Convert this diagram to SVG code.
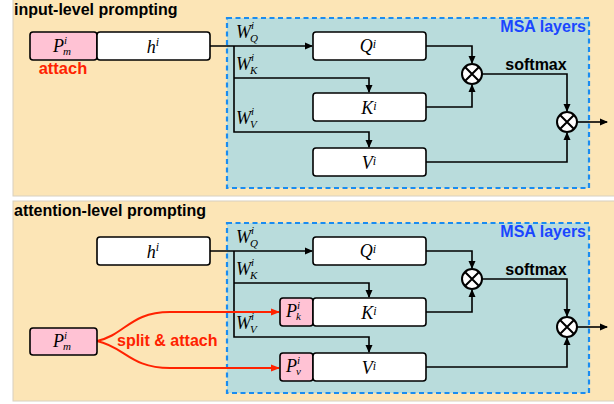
<svg xmlns="http://www.w3.org/2000/svg" width="614" height="404" viewBox="0 0 614 404">
<defs>
<marker id="ah" markerWidth="8" markerHeight="8" refX="7" refY="4" orient="auto" markerUnits="userSpaceOnUse"><path d="M0,0.5 L8,4 L0,7.5 Z" fill="#000"/></marker>
<marker id="ahr" markerWidth="9" markerHeight="8" refX="8" refY="4" orient="auto" markerUnits="userSpaceOnUse"><path d="M0,0.5 L9,4 L0,7.5 Z" fill="#ff2200"/></marker>
<g id="mult"><circle r="10" fill="#fff" stroke="#000" stroke-width="2"/><path d="M-7,-7 L7,7 M7,-7 L-7,7" stroke="#000" stroke-width="2"/></g>
</defs>
<style>
.panel{fill:#fce5b6;stroke:#d8d0c0;stroke-width:1}
.msa{fill:#b9dcdc;stroke:#1a8cf0;stroke-width:2.2;stroke-dasharray:5,3.5}
.box{fill:#fff;stroke:#000;stroke-width:1.6}
.pbox{fill:#ffc2d4;stroke:#000;stroke-width:1.6}
.title{font-family:"Liberation Sans",Arial,sans-serif;font-weight:bold;font-size:16px;fill:#000}
.lbl{font-family:"Liberation Sans",Arial,sans-serif;font-weight:bold;font-size:16px}
.math{font-family:"Liberation Serif","Times New Roman",serif;font-style:italic;font-size:18px;fill:#000}
.sm{font-size:11px}
.ln{fill:none;stroke:#000;stroke-width:1.6}
.rl{fill:none;stroke:#ff2200;stroke-width:2}
</style>

<!-- panels -->
<rect class="panel" x="13" y="-4" width="606" height="200"/>
<rect class="panel" x="13" y="201" width="606" height="200"/>
<text class="title" x="14" y="14.5">input-level prompting</text>
<text class="title" x="14" y="216">attention-level prompting</text>

<!-- top panel -->
<g id="msa-top">
<rect class="msa" x="227" y="18" width="362" height="170"/>
<text class="lbl" x="586" y="32" text-anchor="end" fill="#1a46ff">MSA layers</text>
</g>
<g id="connectors-top">
<path class="ln" d="M210,46 L312,46" marker-end="url(#ah)"/>
<path class="ln" d="M234,46 L234,132 L369,132 L369,147" marker-end="url(#ah)"/>
<path class="ln" d="M234,78 L369,78 L369,92" marker-end="url(#ah)"/>
<path class="ln" d="M426,46 L472,46 L472,63" marker-end="url(#ah)"/>
<path class="ln" d="M426,107 L472,107 L472,85" marker-end="url(#ah)"/>
<path class="ln" d="M482,74 L567,74 L567,111" marker-end="url(#ah)"/>
<path class="ln" d="M426,162 L567,162 L567,133" marker-end="url(#ah)"/>
<path class="ln" d="M577,122 L607,122" marker-end="url(#ah)"/>
<text class="lbl" x="536" y="70" text-anchor="middle" fill="#000">softmax</text>
<text class="math" x="236" y="38">W<tspan class="sm" dy="-9">i</tspan><tspan class="sm" dx="-4" dy="13">Q</tspan></text>
<text class="math" x="236" y="70">W<tspan class="sm" dy="-9">i</tspan><tspan class="sm" dx="-4" dy="13">K</tspan></text>
<text class="math" x="236" y="124">W<tspan class="sm" dy="-9">i</tspan><tspan class="sm" dx="-4" dy="13">V</tspan></text>
</g>
<g id="pm-top">
<rect class="pbox" x="30" y="32" width="67" height="28" rx="3"/>
<text class="math" x="53" y="52">P<tspan class="sm" dy="-8">i</tspan><tspan class="sm" dx="-4" dy="11">m</tspan></text>
<text class="lbl" x="63" y="74" text-anchor="middle" fill="#ff2200" style="font-size:16.5px">attach</text>
</g>
<g id="h-top">
<rect class="box" x="97" y="32" width="113" height="28" rx="3"/>
<text class="math" x="153" y="53" text-anchor="middle">h<tspan class="sm" dy="-7" style="font-size:12px">i</tspan></text>
</g>
<g id="q-top"><rect class="box" x="313" y="32" width="113" height="28" rx="3"/><text class="math" x="368" y="52" text-anchor="middle">Q<tspan dy="-4" style="font-size:12px">i</tspan></text></g>
<g id="k-top"><rect class="box" x="313" y="93" width="113" height="28" rx="3"/><text class="math" x="369" y="114" text-anchor="middle">K<tspan dy="-4" style="font-size:12px">i</tspan></text></g>
<g id="v-top"><rect class="box" x="313" y="148" width="113" height="28" rx="3"/><text class="math" x="369" y="169" text-anchor="middle">V<tspan dy="-4" style="font-size:12px">i</tspan></text></g>
<g id="mult1-top"><use href="#mult" x="472" y="74"/></g>
<g id="mult2-top"><use href="#mult" x="567" y="122"/></g>

<!-- bottom panel -->
<g id="msa-bot">
<rect class="msa" x="227" y="223" width="362" height="170"/>
<text class="lbl" x="586" y="237" text-anchor="end" fill="#1a46ff">MSA layers</text>
</g>
<g id="connectors-bot">
<path class="ln" d="M210,251 L312,251" marker-end="url(#ah)"/>
<path class="ln" d="M234,251 L234,337 L369,337 L369,352" marker-end="url(#ah)"/>
<path class="ln" d="M234,283 L369,283 L369,297" marker-end="url(#ah)"/>
<path class="ln" d="M426,251 L472,251 L472,268" marker-end="url(#ah)"/>
<path class="ln" d="M426,312 L472,312 L472,290" marker-end="url(#ah)"/>
<path class="ln" d="M482,279 L567,279 L567,316" marker-end="url(#ah)"/>
<path class="ln" d="M426,367 L567,367 L567,338" marker-end="url(#ah)"/>
<path class="ln" d="M577,327 L607,327" marker-end="url(#ah)"/>
<path class="rl" d="M97,341 C125,335 130,312 170,312 L279,312" marker-end="url(#ahr)"/>
<path class="rl" d="M97,341 C125,347 130,368 170,368 L279,368" marker-end="url(#ahr)"/>
<text class="lbl" x="536" y="275" text-anchor="middle" fill="#000">softmax</text>
<text class="lbl" x="117" y="346" fill="#ff2200">split &amp; attach</text>
<text class="math" x="236" y="243">W<tspan class="sm" dy="-9">i</tspan><tspan class="sm" dx="-4" dy="13">Q</tspan></text>
<text class="math" x="236" y="275">W<tspan class="sm" dy="-9">i</tspan><tspan class="sm" dx="-4" dy="13">K</tspan></text>
<text class="math" x="236" y="329">W<tspan class="sm" dy="-9">i</tspan><tspan class="sm" dx="-4" dy="13">V</tspan></text>
</g>
<g id="h-bot">
<rect class="box" x="97" y="237" width="113" height="28" rx="3"/>
<text class="math" x="153" y="258" text-anchor="middle">h<tspan class="sm" dy="-7" style="font-size:12px">i</tspan></text>
</g>
<g id="pm-bot">
<rect class="pbox" x="30" y="328" width="67" height="27" rx="3"/>
<text class="math" x="53" y="347">P<tspan class="sm" dy="-8">i</tspan><tspan class="sm" dx="-4" dy="11">m</tspan></text>
</g>
<g id="q-bot"><rect class="box" x="313" y="237" width="113" height="28" rx="3"/><text class="math" x="368" y="257" text-anchor="middle">Q<tspan dy="-4" style="font-size:12px">i</tspan></text></g>
<g id="pk-bot"><rect class="pbox" x="280" y="298" width="33" height="28" rx="3"/><text class="math" x="286" y="317">P<tspan class="sm" dy="-8">i</tspan><tspan class="sm" dx="-4" dy="11">k</tspan></text></g>
<g id="k-bot"><rect class="box" x="313" y="298" width="113" height="28" rx="3"/><text class="math" x="369" y="319" text-anchor="middle">K<tspan dy="-4" style="font-size:12px">i</tspan></text></g>
<g id="pv-bot"><rect class="pbox" x="280" y="353" width="33" height="28" rx="3"/><text class="math" x="286" y="372">P<tspan class="sm" dy="-8">i</tspan><tspan class="sm" dx="-4" dy="11">v</tspan></text></g>
<g id="v-bot"><rect class="box" x="313" y="353" width="113" height="28" rx="3"/><text class="math" x="369" y="374" text-anchor="middle">V<tspan dy="-4" style="font-size:12px">i</tspan></text></g>
<g id="mult1-bot"><use href="#mult" x="472" y="279"/></g>
<g id="mult2-bot"><use href="#mult" x="567" y="327"/></g>
</svg>
